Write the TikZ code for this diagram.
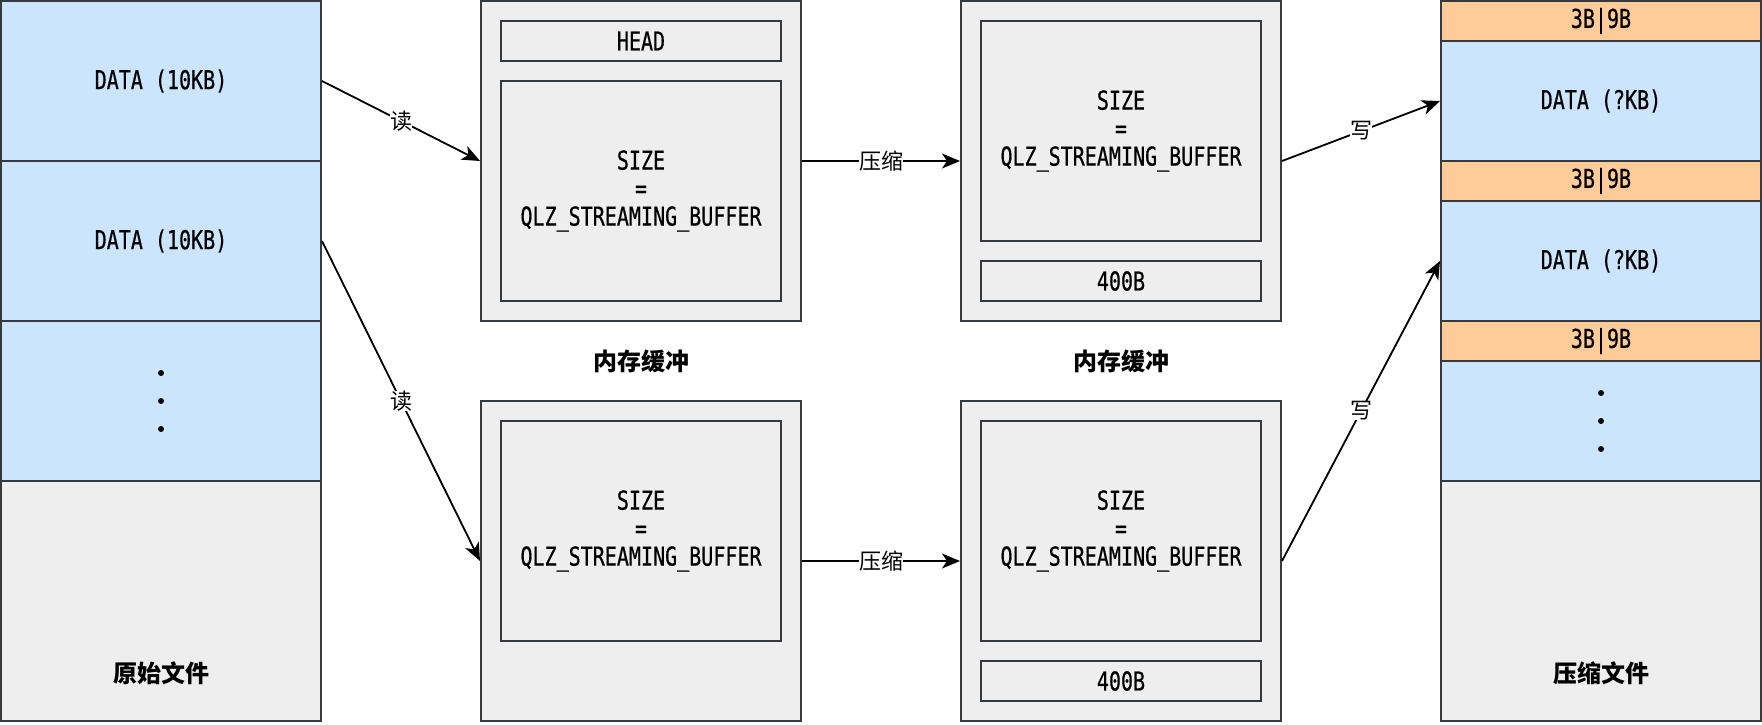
\documentclass[tikz,border=0pt]{standalone}
\usepackage{fontspec}
\usepackage{tikz}
\usetikzlibrary{arrows.meta}
\newfontfamily\codefont[FakeStretch=0.77,FakeBold=0.6]{DejaVu Sans Mono}
\newfontfamily\cjkfont{Noto Sans CJK SC}
\definecolor{blk}{HTML}{CCE5FF}
\definecolor{hdr}{HTML}{FFCC99}
\definecolor{mem}{HTML}{EEEEEE}
\definecolor{edge}{HTML}{36393D}

\begin{document}
\begin{tikzpicture}[x=0.5pt,y=-0.5pt]
\tikzstyle{every node}+=[inner sep=0pt]
\tikzstyle{cell}=[draw=edge, line width=1pt, minimum width=160pt, font=\codefont\fontsize{13}{14}\selectfont, align=center]
\tikzstyle{box}=[cell, minimum width=140pt]
\tikzstyle{arr}=[line width=0.9pt, -{Stealth[length=9pt,width=7.5pt,inset=2.5pt]}]
\tikzstyle{elabel}=[fill=white, font=\cjkfont\fontsize{11}{11}\selectfont]
\tikzstyle{title}=[font=\cjkfont\bfseries\fontsize{12}{12}\selectfont]
\useasboundingbox (0,0) rectangle (1762,724);
% 原始文件
\node[cell, fill=blk, minimum height=80pt] (d1) at (161,81) {DATA (10KB)};
\node[cell, fill=blk, minimum height=80pt] (d2) at (161,241) {DATA (10KB)};
\node[cell, fill=blk, minimum height=80pt] (d3) at (161,401) {};
\node[cell, fill=mem, minimum height=120pt] (src) at (161,601) {};
\node[title] (srctxt) at (161,673) {原始文件};
\foreach \y in {373,401,429} \fill (161,\y) circle (3);
% 内存缓冲 (读)
\node[cell, fill=mem, minimum height=160pt] (buf1) at (641,161) {};
\node[box, fill=mem, minimum height=20pt] (head1) at (641,41) {HEAD};
\node[box, fill=mem, minimum height=110pt] (in1) at (641,191) {SIZE\\=\\QLZ\_STREAMING\_BUFFER};
\node[cell, fill=mem, minimum height=160pt] (buf2) at (641,561) {};
\node[box, fill=mem, minimum height=110pt] (in2) at (641,531) {SIZE\\=\\QLZ\_STREAMING\_BUFFER};
\node[title] (buft) at (641,361) {内存缓冲};
% 内存缓冲 (压缩)
\node[cell, fill=mem, minimum height=160pt] (cbuf1) at (1121,161) {};
\node[box, fill=mem, minimum height=110pt] (cin1) at (1121,131) {SIZE\\=\\QLZ\_STREAMING\_BUFFER};
\node[box, fill=mem, minimum height=20pt] (tail1) at (1121,281) {400B};
\node[cell, fill=mem, minimum height=160pt] (cbuf2) at (1121,561) {};
\node[box, fill=mem, minimum height=110pt] (cin2) at (1121,531) {SIZE\\=\\QLZ\_STREAMING\_BUFFER};
\node[box, fill=mem, minimum height=20pt] (tail2) at (1121,681) {400B};
\node[title] (cbuft) at (1121,361) {内存缓冲};
% 压缩文件
\node[cell, fill=hdr, minimum height=20pt] (h1) at (1601,21) {3B|9B};
\node[cell, fill=blk, minimum height=60pt] (c1) at (1601,101) {DATA (?KB)};
\node[cell, fill=hdr, minimum height=20pt] (h2) at (1601,181) {3B|9B};
\node[cell, fill=blk, minimum height=60pt] (c2) at (1601,261) {DATA (?KB)};
\node[cell, fill=hdr, minimum height=20pt] (h3) at (1601,341) {3B|9B};
\node[cell, fill=blk, minimum height=60pt] (c3) at (1601,421) {};
\node[cell, fill=mem, minimum height=120pt] (dst) at (1601,601) {};
\node[title] (dsttxt) at (1601,673) {压缩文件};
\foreach \y in {393,421,449} \fill (1601,\y) circle (3);

\draw[arr] (d1.east) -- node[elabel] {读} (buf1.west);
\draw[arr] (d2.east) -- node[elabel] {读} (buf2.west);
\draw[arr] (buf1.east) -- node[elabel] {压缩} (cbuf1.west);
\draw[arr] (buf2.east) -- node[elabel] {压缩} (cbuf2.west);
\draw[arr] (cbuf1.east) -- node[elabel] {写} (c1.west);
\draw[arr] (cbuf2.east) -- node[elabel] {写} (c2.west);
\end{tikzpicture}
\end{document}
